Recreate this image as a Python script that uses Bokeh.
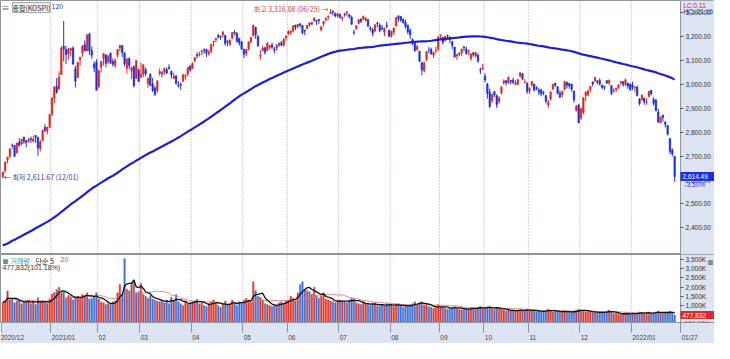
import numpy as np
import pandas as pd
from bokeh.plotting import figure
from bokeh.layouts import column
from bokeh.models import ColumnDataSource, FixedTicker, Range1d, Label, Span, BoxAnnotation
from bokeh.embed import file_html
from bokeh.resources import INLINE

# ---------------- data ----------------
month_labels = ["2020/12", "2021/01", "02", "03", "04", "05", "06", "07", "08", "09", "10", "11", "12", "2022/01"]
month_days = [21, 20, 18, 22, 22, 19, 22, 22, 21, 19, 19, 22, 22, 19]
last_date = "01/27"

opens = [
    2612,2640,2683,2700,2746,2745,2714,2758,2751,2780,2764,2762,2773,2762,2786,2780,2731,2767,2820,2805,2821,
    2874,2943,2993,2981,3041,3161,3146,3129,3144,3153,3066,3029,3104,3132,3167,3141,3212,3141,3086,3094,
    2992,3073,3109,3123,3096,3132,3096,3081,3123,3153,3164,3131,3068,3108,3056,3074,3026,3061,
    3030,3043,3063,3004,3042,3003,2985,2975,3046,3049,3052,3062,3071,3055,3027,3036,2998,2999,3014,3034,3043,3078,
    3068,3099,3125,3124,3136,3145,3147,3129,3138,3178,3188,3205,3203,3208,3205,3181,3168,3194,3219,3214,3193,3178,
    3147,3131,3147,3180,3205,3240,3201,3119,3143,3154,3143,3156,3166,3149,3152,3171,3175,3165,3196,
    3212,3218,3224,3249,3244,3254,3247,3227,3236,3258,3253,3267,3268,3272,3228,3254,3270,3283,3297,3307,3297,3287,
    3293,3276,3297,3299,3292,3282,3220,3236,3256,3274,3274,3268,3272,3237,3229,3225,3256,3249,3237,3219,3248,3227,
    3204,3219,3245,3288,3285,3273,3262,3249,3227,3189,3173,3146,3140,3092,3057,3105,3146,3147,3123,3142,3150,
    3203,3198,3184,3205,3199,3180,3157,3121,3131,3133,3157,3148,3139,3108,3133,3120,3123,3062,3065,
    3035,3002,2968,2933,2970,2953,2930,2965,3007,3016,3007,3017,3018,2999,3002,3035,3045,3008,3004,
    2974,2999,3001,2987,2976,2979,2966,2954,2915,2939,2981,3006,2991,2963,2957,2980,3010,3004,3002,2973,2890,2914,
    2860,2883,2954,2956,2979,3010,3016,3015,3018,2997,2992,3016,3007,2996,2973,2980,2988,3007,3012,3001,3006,3002,
    2998,2986,2990,2938,2937,2943,2924,2950,2975,2938,2936,2885,2840,2872,2842,2828,2774,2726,2699,
]
highs = [
    2634,2676,2697,2731,2753,2747,2756,2775,2773,2781,2767,2777,2782,2786,2788,2780,2768,2812,2834,2824,2878,
    2946,2990,3027,3055,3161,3266,3161,3154,3155,3160,3078,3093,3115,3165,3185,3209,3216,3159,3097,3106,
    3064,3097,3130,3128,3121,3133,3109,3110,3147,3166,3164,3136,3108,3114,3076,3081,3102,3067,
    3092,3083,3071,3029,3047,3027,2995,3019,3067,3057,3070,3071,3085,3059,3049,3040,3014,3009,3043,3044,3073,3081,
    3093,3116,3135,3137,3145,3152,3150,3146,3170,3183,3195,3213,3205,3221,3209,3186,3190,3218,3228,3220,3196,3183,
    3150,3148,3180,3200,3250,3240,3208,3145,3162,3158,3178,3166,3175,3157,3168,3177,3183,3195,3204,
    3227,3226,3247,3250,3253,3258,3248,3229,3249,3259,3264,3280,3271,3275,3246,3266,3283,3290,3316,3310,3302,3297,
    3297,3284,3298,3306,3295,3289,3229,3248,3274,3277,3289,3283,3273,3244,3237,3252,3264,3257,3250,3238,3263,3230,
    3226,3238,3282,3288,3286,3277,3272,3251,3236,3193,3173,3167,3140,3092,3097,3139,3157,3154,3138,3158,3201,
    3209,3198,3205,3210,3201,3180,3158,3127,3135,3149,3162,3158,3147,3130,3136,3135,3130,3071,3087,
    3047,3006,2983,2961,2974,2959,2951,2994,3022,3019,3034,3018,3029,3018,3023,3050,3048,3023,3010,
    2989,3013,3004,2993,2986,2979,2973,2956,2937,2970,3002,3006,2992,2975,2975,3014,3011,3006,3002,2974,2914,2919,
    2902,2946,2972,2980,2993,3014,3031,3019,3026,3000,2994,3019,3021,2997,2984,2988,3002,3014,3013,3025,3006,3004,
    3011,2993,2995,2943,2959,2945,2942,2973,2976,2947,2936,2899,2866,2873,2847,2829,2774,2732,2701,
]
lows = [
    2611,2630,2670,2693,2731,2696,2711,2738,2745,2752,2737,2757,2755,2758,2756,2702,2720,2762,2799,2790,2819,
    2869,2921,2961,2980,3041,3097,3085,3103,3118,3082,2988,3029,3078,3116,3139,3140,3123,3108,3052,2977,
    2984,3050,3080,3072,3084,3086,3075,3069,3113,3138,3115,3076,3046,3064,3023,2988,3025,3012,
    3028,3030,3034,2986,2994,2969,2953,2966,3037,3031,3040,3044,3064,3025,3022,2999,2987,2978,3011,3021,3034,3053,
    3064,3093,3109,3117,3124,3128,3115,3121,3130,3158,3176,3192,3187,3196,3162,3160,3162,3191,3206,3175,3163,3147,
    3111,3118,3143,3172,3200,3191,3158,3104,3139,3125,3140,3146,3148,3130,3141,3158,3160,3159,3183,
    3207,3209,3219,3228,3234,3239,3210,3207,3230,3242,3248,3263,3250,3254,3223,3242,3264,3270,3295,3289,3281,3280,
    3277,3264,3284,3286,3276,3250,3207,3228,3252,3258,3270,3265,3242,3223,3202,3219,3240,3219,3227,3202,3236,3199,
    3196,3208,3245,3263,3263,3255,3234,3211,3191,3165,3136,3142,3094,3039,3051,3098,3131,3124,3112,3131,3140,
    3187,3167,3181,3189,3173,3148,3113,3103,3118,3120,3140,3125,3123,3101,3116,3112,3091,3044,3061,
    3009,2941,2902,2923,2947,2902,2919,2958,3000,2996,3002,3001,3003,2999,2996,3030,3018,3005,2961,
    2961,2989,2971,2976,2955,2950,2955,2921,2902,2934,2978,2989,2960,2944,2946,2976,2983,2982,2970,2924,2888,2839,
    2852,2876,2931,2950,2968,2992,3010,3000,2996,2980,2976,3003,2998,2956,2965,2969,2982,3000,2991,2993,2982,2974,
    2977,2968,2950,2912,2932,2915,2916,2947,2954,2912,2888,2840,2838,2845,2820,2786,2708,2698,2592,
]
closes = [
    2634,2676,2696,2731,2745,2701,2755,2746,2770,2762,2757,2772,2770,2772,2779,2734,2760,2807,2809,2821,2873,
    2944,2991,2968,3032,3152,3148,3126,3148,3150,3086,3014,3093,3115,3161,3141,3209,3140,3123,3069,2976,
    3057,3097,3130,3088,3121,3091,3085,3101,3147,3163,3134,3087,3108,3080,3070,2995,3100,3013,
    3043,3083,3044,3026,2996,2976,2958,3014,3054,3046,3067,3048,3066,3040,3035,3005,2996,2996,3041,3036,3070,3061,
    3087,3113,3121,3127,3140,3143,3132,3136,3169,3182,3194,3199,3199,3221,3172,3178,3186,3218,3215,3181,3174,3148,
    3127,3147,3179,3197,3249,3209,3162,3122,3153,3135,3173,3162,3156,3144,3166,3168,3165,3189,3204,
    3222,3224,3247,3240,3252,3248,3216,3224,3249,3252,3259,3279,3265,3268,3241,3264,3276,3286,3303,3302,3287,3297,
    3282,3282,3293,3305,3285,3253,3218,3246,3271,3265,3286,3277,3244,3233,3215,3250,3254,3225,3233,3237,3243,3202,
    3223,3237,3280,3276,3270,3260,3243,3221,3208,3171,3143,3159,3098,3061,3090,3138,3146,3129,3134,3144,3199,
    3207,3176,3201,3203,3187,3163,3115,3126,3128,3149,3153,3130,3141,3128,3125,3134,3098,3060,3069,
    3019,2962,2908,2959,2956,2916,2944,2989,3015,3007,3030,3013,3007,3006,3021,3049,3025,3010,2971,
    2983,3013,2976,2983,2969,2960,2964,2930,2925,2969,3000,2997,2962,2947,2971,3013,2997,2994,2980,2936,2909,2839,
    2900,2945,2968,2973,2992,3002,3030,3010,3002,2988,2989,3006,3018,2963,2975,2984,2998,3012,3000,3020,2993,2978,
    2989,2989,2954,2921,2955,2927,2927,2972,2962,2922,2890,2842,2864,2863,2834,2792,2720,2709,2614.49,
]
# closes of the 119 sessions before the window (Jun-Nov 2020), used for the 120-day average
prior_closes = [
    2195,2176,2132,2030,2138,2141,2136,2141,2126,2131,2161,2113,2134,2093,2108,
    2106,2136,2152,2187,2164,2151,2168,2150,2176,2183,2201,2183,2201,2198,2228,2207,2200,2217,2256,2263,2267,2249,2249,
    2251,2279,2311,2342,2351,2386,2418,2432,2437,2407,2348,2360,2274,2304,2329,2330,2369,2335,2353,2326,
    2349,2363,2368,2368,2384,2401,2375,2396,2397,2427,2443,2435,2406,2413,2389,2333,2333,2273,2278,2308,2327,
    2358,2366,2365,2391,2403,2403,2380,2361,2341,2358,2346,2370,2355,2360,2343,2330,2345,2326,2267,
    2300,2343,2357,2413,2416,2447,2452,2485,2475,2493,2543,2544,2545,2547,2553,2602,2617,2601,2625,2633,2591,
]
# volume, thousand shares
volumes = [
    1180,1250,1790,1320,1400,1150,1260,1280,1100,1170,1250,1300,1100,1210,1050,1420,1200,1180,1150,1110,1350,
    1620,1710,1860,1990,1700,1750,1420,1550,1480,1300,1450,1510,1430,1600,1550,1700,1350,1390,1450,1700,
    1350,1180,1150,1050,1100,1060,1200,1250,1700,2150,1600,3550,1900,1800,2250,2400,1700,1750,
    2200,1600,1500,1400,1550,1350,1300,1250,1200,1300,1150,1300,1100,1450,1250,1600,1200,1100,1000,1250,1100,1150,
    1200,1250,1350,1100,1150,1000,950,1100,1200,1300,1150,1000,900,1100,1250,1000,1050,1300,1150,1000,1200,1150,
    1300,1400,1250,1200,2300,1800,1500,1450,1300,1100,1050,1000,950,1050,1000,1150,1200,1100,1250,
    1300,1500,1400,1250,1700,2150,2300,1900,1800,1750,1600,2000,1550,1400,1500,1700,1350,1300,1250,1200,1150,1300,
    1300,1250,1200,1150,1300,1400,1350,1150,1100,1050,1200,1100,1050,1000,1100,1150,1000,950,1050,1000,1100,1050,
    1000,950,1050,1100,1000,900,950,1000,1050,1100,1200,1050,1150,1200,1000,1100,950,900,850,900,1050,
    950,900,850,800,850,900,950,850,800,750,800,850,800,900,850,800,900,950,850,
    850,900,950,850,800,900,850,800,750,700,750,700,750,700,700,800,750,700,800,
    700,750,700,650,700,650,700,750,800,700,650,700,650,700,650,700,650,600,650,700,750,800,
    750,700,650,700,650,600,650,600,650,600,650,700,750,600,550,600,550,500,550,600,550,500,
    600,550,600,650,600,550,600,650,550,600,650,700,600,550,600,650,700,650,477.832,
]
price_ticks = [2400, 2500, 2600, 2700, 2800, 2900, 3000, 3100, 3200, 3300]
volume_ticks = [500, 1000, 1500, 2000, 2500, 3000, 3500]

# ---------------- derived ----------------
n = len(closes)
xs = np.arange(n) + 0.5
month_starts = [int(s) for s in np.cumsum([0] + month_days[:-1])]
up = [c > o for o, c in zip(opens, closes)]
RED, BLUE = "#e5231d", "#1c2fe0"
VRED, VBLUE = "#e4392c", "#3f72d6"
ma120 = pd.Series(prior_closes + closes).rolling(120, min_periods=1).mean().values[-n:]
vol_s = pd.Series(volumes)
src = ColumnDataSource(dict(
    x=xs, open=opens, high=highs, low=lows, close=closes,
    top=[max(o, c) for o, c in zip(opens, closes)],
    bottom=[min(o, c) for o, c in zip(opens, closes)],
    color=[RED if u else BLUE for u in up],
    vcolor=[VRED if u else VBLUE for u in up],
    vol=volumes, ma120=ma120,
    vma5=vol_s.rolling(5, min_periods=1).mean().values,
    vma20=vol_s.rolling(20, min_periods=1).mean().values,
))

W = 714
AXW = 34                      # width of the right value-axis column, px
AX_BG = "#dbe4f0"
GRIDC = "#b98ccb"
FONT = "Noto Sans CJK KR"
FS = "6.5px"
XR0, XAX = -0.5, 290          # plot area; XAX = position of the right value axis
XR1 = XR0 + (XAX - XR0) * W / (W - AXW)
xr = Range1d(XR0, XR1)
P_LO, P_HI = 2288, 3352
V_LO, V_HI = 74, 3778
P_H, V_H = 254, 89

def lab(fig, x, y, text, dx=0, dy=0, color="#333333", size=FS, font="Liberation Sans",
        baseline="top", align="left", **kw):
    fig.add_layout(Label(x=x, y=y, x_offset=dx, y_offset=dy, text=text, text_baseline=baseline,
                         text_align=align, text_font=font, text_font_size=size,
                         text_color=color, level="overlay", **kw))

def style_yaxis(ax, ticks, fmt):
    ax.fixed_location = XAX
    ax.ticker = FixedTicker(ticks=ticks)
    ax.major_label_overrides = {t: fmt(t) for t in ticks}
    ax.major_label_text_font_size = FS
    ax.major_label_text_font = "Liberation Sans"
    ax.major_label_text_color = "#333333"
    ax.axis_line_color = "#8f959c"
    ax.major_tick_line_color = "#555555"
    ax.major_tick_out = 3
    ax.major_tick_in = 0
    ax.minor_tick_out = 0
    ax.minor_tick_in = 0
    ax.major_label_standoff = 2

def base(fig):
    fig.background_fill_color = "white"
    fig.border_fill_color = AX_BG
    fig.outline_line_color = "#8f959c"
    fig.grid.visible = False
    fig.add_layout(BoxAnnotation(left=XAX, fill_color=AX_BG, fill_alpha=1.0,
                                 line_alpha=0, level="underlay"))
    for s in month_starts[1:]:
        fig.add_layout(Span(location=s, dimension="height", line_color=GRIDC,
                            line_dash="1 2", line_width=1, level="underlay"))

def value_box(fig, y, half, color):
    fig.add_layout(BoxAnnotation(left=XAX, right=XR1, bottom=y - half, top=y + half,
                                 fill_color=color, fill_alpha=1.0, line_alpha=0, level="overlay"))

# ---------------- price panel ----------------
p = figure(width=W, height=P_H, x_range=xr, y_range=Range1d(P_LO, P_HI),
           output_backend="svg", toolbar_location=None, y_axis_location="right",
           x_axis_location=None, min_border_left=0, min_border_top=0, min_border_bottom=0,
           min_border_right=0)
base(p)
p.segment(x0="x", y0="high", x1="x", y1="low", color="color", line_width=1, source=src)
p.vbar(x="x", width=0.62, top="top", bottom="bottom", fill_color="color",
       line_color="color", line_width=0.6, source=src)
p.line(x="x", y="ma120", color="#1b1fd2", line_width=2.2, source=src)
style_yaxis(p.yaxis[0], price_ticks, lambda t: f"{t:,}.00")

hi_i = int(np.argmax(highs))
lab(p, xs[hi_i], highs[hi_i], "최고 3,316.08 (06/25) →", dx=-2, baseline="middle", align="right",
    font=FONT, size="7px", color="#d23a3a")
lab(p, xs[0], lows[0], "← 최저 2,611.67 (12/01)", dx=1, baseline="middle", font=FONT, size="7px",
    color="#2b3aa8")
# legend
lab(p, XR0, P_HI, "≡", dx=1, dy=-1, size="8px", font=FONT, color="#666666")
lab(p, XR0, P_HI, "종합(KOSPI)", dx=12, dy=-2, font=FONT, size="7px",
    background_fill_color="#eeeeee", border_line_color="#a8a8a8")
lab(p, XR0, P_HI, "120", dx=51, dy=-2, font=FONT, size="7px", color="#2233cc")
# right column texts
lab(p, XAX, P_HI, "LC:0.11", dx=3, dy=-1, color="#e02020")
lab(p, XAX, P_HI, "HC:-21.16", dx=3, dy=-7, color="#2233cc")
value_box(p, closes[-1], 4.5 * (P_HI - P_LO) / P_H, "#1c2fe0")
lab(p, XAX, closes[-1], "2,614.49", dx=2, baseline="middle", color="white")
lab(p, XAX, closes[-1], "-3.50%", dx=4, dy=-8, baseline="middle", color="#1c2fe0")

# ---------------- volume panel ----------------
v = figure(width=W, height=V_H, x_range=xr, y_range=Range1d(V_LO, V_HI),
           output_backend="svg", toolbar_location=None, y_axis_location="right",
           min_border_left=0, min_border_top=0, min_border_bottom=0, min_border_right=0)
base(v)
v.vbar(x="x", width=0.66, top="vol", bottom=0, fill_color="vcolor", line_color="vcolor",
       line_width=0.4, source=src)
v.line(x="x", y="vma20", color="#e47a7a", line_width=0.9, source=src)
v.line(x="x", y="vma5", color="#111111", line_width=1.3, source=src)
style_yaxis(v.yaxis[0], volume_ticks, lambda t: f"{t:,}K")

# month labels start just right of the month boundary: centred text padded on its left
def padded(t):
    w = sum(0.278 if ch == "/" else 0.556 for ch in t)
    return "\u00a0" * (int(round(w / 0.278)) + 1) + t

xticks = month_starts + [XAX]
xlabels = month_labels + [last_date]
vx = v.xaxis[0]
vx.ticker = FixedTicker(ticks=xticks)
vx.major_label_overrides = {s: (t if i == 0 else padded(t))
                            for i, (s, t) in enumerate(zip(xticks, xlabels))}
vx.major_label_text_font_size = FS
vx.major_label_text_font = "Liberation Sans"
vx.major_label_text_color = "#444444"
vx.major_label_standoff = 1
vx.axis_line_color = "#8f959c"
vx.major_tick_line_color = "#8f959c"
vx.major_tick_out = 10
vx.major_tick_in = 0
vx.minor_tick_out = 0
vx.minor_tick_in = 0

lab(v, XR0, V_HI, "■", dx=2, dy=-2, size="6px", font=FONT, color="#7a8a9a")
lab(v, XR0, V_HI, "거래량", dx=10, dy=-1, font=FONT, size="7px", color="#2a9ab0")
lab(v, XR0, V_HI, "단순 5", dx=35, dy=-1, font=FONT, size="7px", color="#222222")
lab(v, XR0, V_HI, "20", dx=60, dy=-1, font=FONT, size="7px", color="#e03030")
lab(v, XR0, V_HI, "477,832(101.18%)", dx=2, dy=-9, size="7px")
lab(v, XR1, V_HI, "■", dx=-7, dy=-3, size="6px", font=FONT, color="#7a8a9a")
value_box(v, volumes[-1], 4.5 * (V_HI - V_LO) / (V_H - 12), "#e02a2a")
lab(v, XAX, volumes[-1], "477,832", dx=2, baseline="middle", color="white")
lab(v, XAX, volumes[-1], "101.18%", dx=4, dy=-8, baseline="middle", color="#e02a2a")

layout = column(p, v, spacing=0)
open("out.html", "w").write(file_html(layout, INLINE))
